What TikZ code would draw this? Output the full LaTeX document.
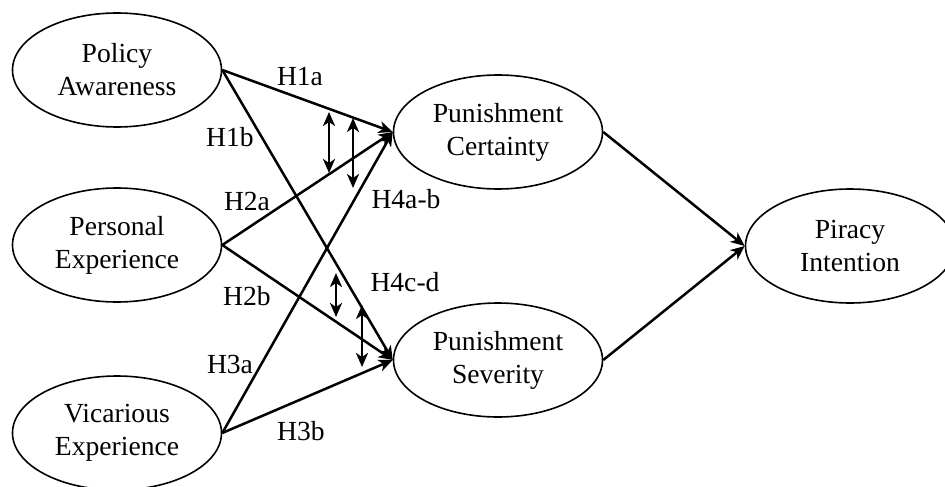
\documentclass[tikz,border=0pt]{standalone}
\usepackage{fontspec}
\setmainfont{Liberation Serif}
\usetikzlibrary{shapes.geometric,arrows.meta}
\begin{document}
\begin{tikzpicture}[x=0.5pt,y=-0.5pt,
  construct/.style={ellipse,draw,line width=0.8pt,minimum width=104.5pt,minimum height=57pt,inner sep=0pt,align=center,font=\fontsize{13.8}{16.5}\selectfont},
  hyp/.style={font=\fontsize{13.8}{16.5}\selectfont,inner sep=0pt},
  hpath/.style={line width=1.25pt,-{Stealth[length=7pt,width=6pt,inset=2pt]}},
  corr/.style={line width=1.3pt,{Stealth[length=7pt,width=6pt,inset=2pt]}-{Stealth[length=7pt,width=6pt,inset=2pt]}}]
\useasboundingbox (0,0) rectangle (945,486);
\node[construct] (pa) at (117,70) {Policy\\Awareness};
\node[construct] (pe) at (117,245) {Personal\\Experience};
\node[construct] (ve) at (117,433) {Vicarious\\Experience};
\node[construct] (pc) at (498,132) {Punishment\\Certainty};
\node[construct] (ps) at (498,360) {Punishment\\Severity};
\node[construct] (pi) at (850,246) {Piracy\\Intention};
\draw[hpath] (pa.east) -- (pc.west);
\draw[hpath] (pa.east) -- (ps.west);
\draw[hpath] (pe.east) -- (pc.west);
\draw[hpath] (pe.east) -- (ps.west);
\draw[hpath] (ve.east) -- (pc.west);
\draw[hpath] (ve.east) -- (ps.west);
\draw[hpath] (pc.east) -- (pi.west);
\draw[hpath] (ps.east) -- (pi.west);
\coordinate (d1a) at (329,112); \coordinate (d1b) at (329,173);
\coordinate (d2a) at (353,118); \coordinate (d2b) at (353,188);
\coordinate (d3a) at (336,273); \coordinate (d3b) at (336,317);
\coordinate (d4a) at (362,305); \coordinate (d4b) at (362,367);
\draw[corr] (d1a) -- (d1b);
\draw[corr] (d2a) -- (d2b);
\draw[corr] (d3a) -- (d3b);
\draw[corr] (d4a) -- (d4b);
\node[hyp] (h1a) at (300,77) {H1a};
\node[hyp] (h1b) at (230,137) {H1b};
\node[hyp] (h2a) at (247,201) {H2a};
\node[hyp] (h4ab) at (406,199) {H4a-b};
\node[hyp] (h4cd) at (405,282) {H4c-d};
\node[hyp] (h2b) at (247,296) {H2b};
\node[hyp] (h3a) at (230,364) {H3a};
\node[hyp] (h3b) at (301,431) {H3b};
\end{tikzpicture}
\end{document}
